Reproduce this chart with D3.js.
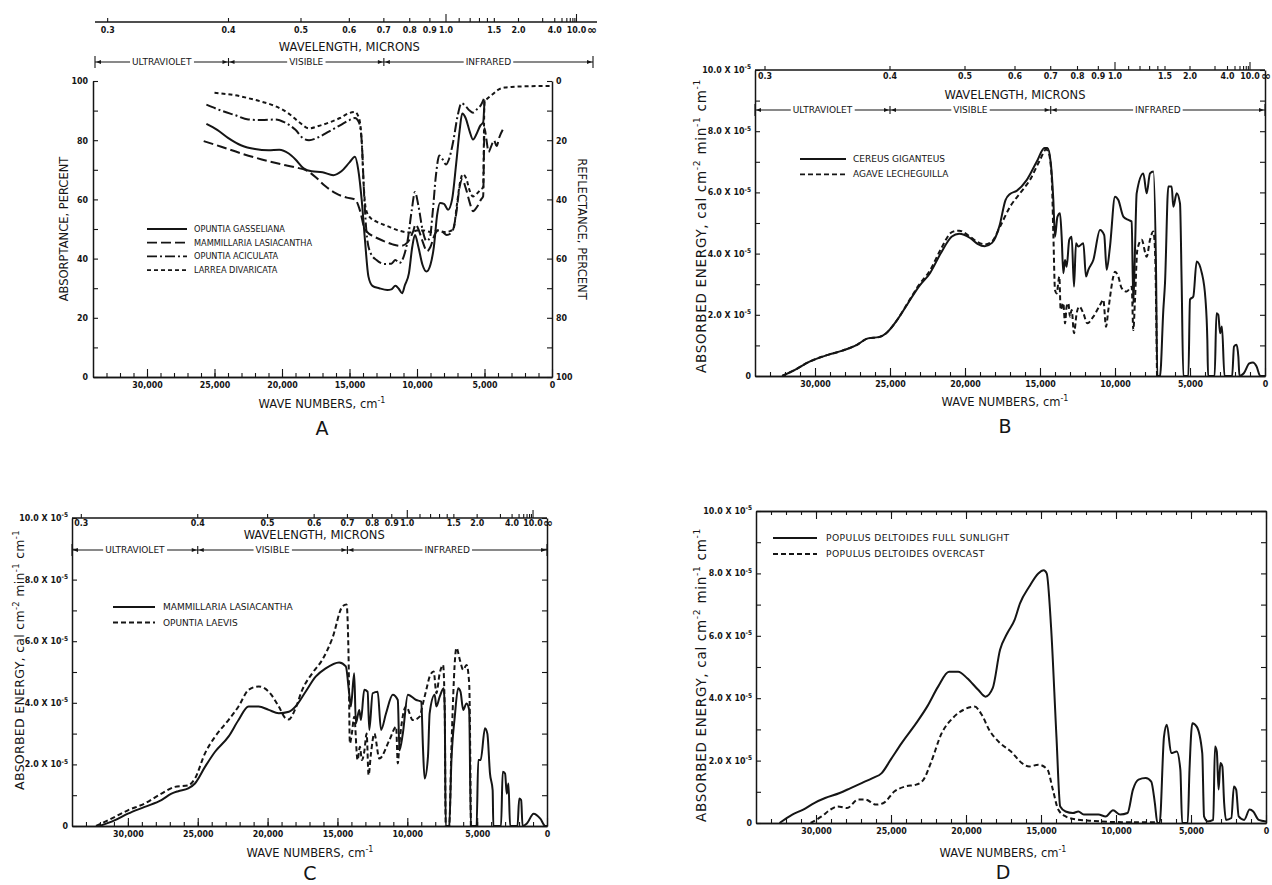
<!DOCTYPE html>
<html>
<head>
<meta charset="utf-8">
<title>Absorbed energy spectra</title>
<script src="https://cdn.jsdelivr.net/npm/d3@7"></script>
<style>
  body { margin: 0; background: #fff; }
  svg text { font-family: "DejaVu Sans", sans-serif; fill: #151515; }
  .num { font-family: "DejaVu Sans Condensed", "Liberation Sans Narrow", "DejaVu Sans", sans-serif; font-stretch: condensed; font-size: 8.8px; font-weight: 600; }
  .ttl { font-size: 11.5px; }
</style>
</head>
<body>
<svg id="chart" width="1272" height="885"></svg>
<script>
// ---------- data : [wave number cm-1, value] ----------

// A : absorptance, percent
const aGasseliana = [[25600,85.5],[24800,83.5],[24000,80.8],[23000,78.2],[22000,77],[21000,76.6],[20200,76.8],[19500,75.5],[19000,73.5],[18400,70.5],[17800,69.5],[17000,69.2],[16200,68.2],[15600,69.5],[15000,72.5],[14600,74.4],[14350,70],[14100,60],[13850,46],[13600,34],[13300,30.8],[12800,30],[12200,29.4],[11900,29.6],[11600,30.8],[11350,29.8],[11100,28.3],[10900,31],[10600,35],[10350,44],[10150,48],[9900,44],[9600,38],[9300,35.6],[9000,38],[8750,44],[8500,55],[8300,58.8],[8000,58.5],[7700,56.5],[7400,60],[7100,72],[6850,83],[6650,89],[6400,87.5],[6100,83],[5850,80.2],[5600,82],[5300,85],[5100,86],[5000,93.5]];
const aMammillaria = [[25800,79.7],[24500,77.8],[23000,75.5],[21500,73.5],[20000,71.8],[19000,70.8],[18200,69.8],[17500,67.5],[16800,64.5],[16000,62],[15200,60.6],[14600,60],[14350,58],[14150,55],[13950,51],[13700,49],[13200,47.5],[12500,46],[11800,44.8],[11200,44.3],[10700,45.5],[10300,49],[10100,51.5],[9900,50],[9600,46],[9250,42.5],[9000,44],[8700,48],[8400,49.7],[8100,49],[7800,48],[7400,49],[7100,55],[6850,64],[6650,66.7],[6400,64],[6100,59],[5850,56],[5550,57.5],[5250,60],[5100,61],[5000,84],[4850,80],[4700,76],[4500,78],[4300,80],[4100,78],[3900,81],[3650,83.5]];
const aAciculata = [[25600,92],[24500,90],[23500,88.5],[22500,87],[21500,86.8],[20500,87],[19800,86],[19000,83.5],[18400,80.5],[18000,80],[17300,81],[16500,83],[15700,85],[15000,86.8],[14600,87.5],[14300,86],[14100,80],[13900,60],[13700,47],[13450,42],[13000,39.5],[12400,38.2],[11900,38.3],[11600,39.5],[11300,38.5],[11000,40.5],[10700,46],[10400,56],[10150,62.5],[9900,58],[9600,50],[9300,46],[9050,47],[8850,55],[8600,68],[8350,74.8],[8100,73.5],[7850,71.8],[7600,74],[7300,80],[7000,88],[6700,92.5],[6400,91.5],[6100,90],[5850,89.3],[5550,90.5],[5250,92],[5050,94]];
const aLarrea = [[25000,96],[24500,95.8],[23500,95.2],[22500,94.2],[21500,93],[20500,91.5],[19500,89],[18700,86],[18000,84],[17300,84.8],[16500,86],[15700,87.5],[15000,89.2],[14600,89.5],[14300,87.5],[14100,80],[13950,65],[13800,57],[13500,54],[13000,52.5],[12200,51],[11500,49.7],[10900,49],[10500,48.8],[10000,49.5],[9500,49.5],[9000,49],[8500,49.5],[8000,49],[7600,49.2],[7300,50],[7050,58],[6800,66],[6600,68.5],[6350,67],[6100,63],[5850,61],[5550,62],[5250,63.5],[5100,64],[5000,93],[4800,94],[4400,95.5],[4000,97],[3500,97.8],[3000,98],[2000,98.2],[1000,98.3],[0,98.3]];
const aSpecies = ['OPUNTIA GASSELIANA', 'MAMMILLARIA LASIACANTHA', 'OPUNTIA ACICULATA', 'LARREA DIVARICATA'];

// B : absorbed energy, 1e-5 cal cm-2 min-1 cm-1
const bCereus = [[32190,0],[31340,0.2],[30365,0.47],[29150,0.69],[28175,0.83],[27200,1.02],[26470,1.23],[25740,1.27],[25255,1.4],[24525,1.83],[23800,2.38],[23065,2.93],[22335,3.36],[21605,4.02],[20875,4.56],[20390,4.65],[19660,4.51],[19170,4.32],[18685,4.24],[18200,4.35],[17710,4.89],[17300,5.75],[17000,5.95],[16556,6.05],[15889,6.4],[15222,7.0],[14700,7.45],[14500,7.45],[14290,7.0],[14111,5.75],[14000,4.55],[13840,5.2],[13667,5.32],[13556,4.55],[13445,3.36],[13334,3.79],[13222,3.57],[13050,4.45],[12889,4.55],[12733,2.92],[12600,4.34],[12445,4.23],[12111,4.34],[11934,3.25],[11778,3.47],[11445,3.79],[11000,4.77],[10720,4.6],[10556,3.47],[10334,4.23],[10000,5.86],[9778,5.75],[9445,5.21],[9111,5.1],[8889,5.05],[8778,2.38],[8667,4.12],[8556,5.97],[8111,6.62],[7889,5.97],[7667,6.62],[7445,6.68],[7267,3.57],[7178,0],[7000,0],[6778,2.16],[6667,3.03],[6445,6.19],[6222,6.19],[6111,5.53],[5889,5.97],[5667,5.64],[5556,3.03],[5445,0],[5111,0],[5000,2.5],[4778,2.6],[4556,3.74],[4209,3.36],[3966,2.49],[3844,1.18],[3795,0],[3358,0],[3236,2.05],[3114,2.0],[2993,1.4],[2871,1.62],[2700,0],[2190,0],[2068,0.96],[1898,1.02],[1776,0.63],[1703,0],[1411,0.09],[1046,0.41],[803,0.44],[560,0.31],[316,0],[0,0]];
const bAgave = [[32190,0],[31340,0.2],[30365,0.47],[29150,0.69],[28175,0.83],[27200,1.02],[26470,1.23],[25740,1.27],[25255,1.4],[24525,1.83],[23800,2.4],[23065,2.98],[22335,3.45],[21605,4.15],[20875,4.7],[20390,4.75],[19660,4.55],[19170,4.38],[18685,4.3],[18200,4.4],[17667,4.88],[17000,5.53],[16334,5.97],[15667,6.41],[15000,7.06],[14600,7.4],[14445,7.33],[14222,6.51],[14111,4.66],[14000,2.81],[13889,2.7],[13711,3.25],[13622,2.16],[13445,2.38],[13334,1.72],[13222,2.27],[13111,2.38],[13000,1.94],[12889,2.16],[12733,1.4],[12556,2.05],[12378,2.27],[12111,2.05],[11845,1.72],[11445,1.94],[11000,2.32],[10778,2.49],[10600,1.61],[10445,2.16],[10111,3.25],[10000,3.41],[9778,3.25],[9556,2.87],[9222,2.76],[8889,2.92],[8778,1.5],[8667,2.49],[8512,4.12],[8222,4.45],[7889,3.9],[7667,4.45],[7445,4.72],[7334,4.12],[7200,0]];
const bSpecies = ['CEREUS  GIGANTEUS', 'AGAVE  LECHEGUILLA'];

// C
const cMammillaria = [[32040,0],[30960,0.18],[30000,0.4],[28800,0.62],[27600,0.84],[26880,1.05],[26400,1.13],[25680,1.22],[25200,1.38],[24480,1.92],[23760,2.41],[22800,2.9],[22080,3.44],[21360,3.88],[20640,3.88],[19920,3.77],[19200,3.66],[18480,3.71],[18000,3.88],[17280,4.36],[16560,4.85],[15840,5.12],[14880,5.31],[14400,5.18],[14160,4.31],[14040,3.88],[13800,4.96],[13680,3.33],[13440,3.77],[13320,3.44],[13080,4.42],[12840,4.36],[12720,3.12],[12480,4.31],[12120,4.36],[11880,3.12],[11520,3.66],[11040,4.26],[10680,4.09],[10560,2.46],[10320,3.0],[9960,4.26],[9360,4.09],[9000,4.04],[8880,2.57],[8760,1.54],[8520,2.25],[8400,3.66],[8040,4.26],[7920,3.88],[7680,4.2],[7390,4.47],[7320,3.77],[7250,0],[7000,0],[6840,2.14],[6600,3.55],[6360,4.47],[6190,4.36],[6000,3.77],[5760,3.98],[5570,3.77],[5450,0],[5040,0],[4920,2.14],[4750,2.14],[4440,3.17],[4270,3.0],[4080,1.7],[3890,1.16],[3840,0],[3290,0],[3170,1.76],[3000,1.7],[2880,1.05],[2760,1.38],[2640,0],[2110,0],[1990,0.89],[1850,0.84],[1750,0],[1440,0.08],[960,0.4],[480,0.24],[120,0],[0,0]];
const cLaevis = [[32280,0],[30960,0.29],[30000,0.51],[28800,0.73],[27600,1.05],[26640,1.27],[25680,1.32],[25200,1.54],[24480,2.36],[23760,2.9],[22800,3.44],[22080,3.88],[21360,4.42],[20640,4.53],[19920,4.36],[19200,3.88],[18720,3.5],[18480,3.46],[18000,3.82],[17520,4.42],[16800,4.96],[16080,5.4],[15360,6.1],[14640,7.13],[14350,7.19],[14200,5.4],[14110,2.68],[13970,3.0],[13800,3.55],[13560,2.14],[13390,2.57],[13250,2.14],[13080,2.41],[12910,3.0],[12770,1.65],[12600,2.36],[12360,3.0],[12000,2.19],[11280,2.79],[10800,3.22],[10680,2.03],[10560,2.68],[10080,3.88],[9600,3.44],[9120,3.55],[8880,3.98],[8640,4.42],[8400,4.85],[8110,5.02],[7920,4.31],[7680,4.96],[7440,5.23],[7320,3.77],[7250,0],[7000,0],[6840,2.57],[6480,5.78],[6240,5.4],[6000,5.07],[5760,5.23],[5570,4.64],[5450,0]];
const cSpecies = ['MAMMILLARIA  LASIACANTHA', 'OPUNTIA  LAEVIS'];

// D
const dFullSun = [[32430,0],[31580,0.27],[30850,0.43],[30120,0.64],[29390,0.8],[28420,0.96],[27690,1.12],[26960,1.28],[26230,1.44],[25620,1.6],[25020,2.03],[24290,2.56],[23320,3.2],[22590,3.73],[21860,4.37],[21130,4.85],[20520,4.85],[19920,4.64],[19190,4.27],[18700,4.05],[18220,4.32],[17730,5.55],[17250,6.08],[16760,6.51],[16400,7.04],[15790,7.57],[15180,8.0],[14820,8.1],[14620,8.0],[14330,6.29],[13970,2.77],[13720,0.53],[13360,0.37],[12870,0.32],[12510,0.37],[12150,0.27],[11660,0.27],[11170,0.27],[10690,0.21],[10200,0.41],[9720,0.27],[9230,0.32],[8870,1.07],[8500,1.39],[8020,1.44],[7650,1.33],[7410,0.64],[7240,0],[7090,0],[6800,2.77],[6610,3.15],[6320,2.24],[5950,2.29],[5710,1.71],[5590,0],[5220,0],[5100,1.71],[4910,3.2],[4620,3.09],[4250,2.24],[4130,0.21],[3890,0.05],[3520,0.1],[3400,2.45],[3280,2.29],[3160,1.07],[3040,1.92],[2910,1.81],[2790,0.64],[2670,0.1],[2310,0.16],[2140,1.17],[1990,1.07],[1820,0.21],[1460,0.1],[1090,0.43],[850,0.37],[490,0.1],[0,0.05]];
const dOvercast = [[30360,0],[29630,0.21],[29030,0.43],[28540,0.53],[27930,0.48],[27200,0.75],[26720,0.75],[25990,0.59],[25500,0.64],[24780,1.01],[24050,1.17],[23320,1.23],[22830,1.39],[22350,1.92],[21620,2.88],[20890,3.36],[20160,3.63],[19430,3.73],[18950,3.47],[18460,2.99],[17730,2.56],[17000,2.29],[16270,1.92],[15790,1.81],[15180,1.87],[14570,1.71],[14210,1.07],[13850,0.43],[13360,0.21],[12630,0.11],[11660,0.07],[9960,0.03],[7290,0.02]];
const dSpecies = ['POPULUS  DELTOIDES  FULL  SUNLIGHT', 'POPULUS  DELTOIDES   OVERCAST'];

// ticks and labels
const kMajorTicks = [30000, 25000, 20000, 15000, 10000, 5000, 0];
const kMinorTicks = d3.range(1000, 34000, 1000);
const pctTicks = [0, 10, 20, 30, 40, 50, 60, 70, 80, 90, 100];
const energyTicks = [0, 1, 2, 3, 4, 5, 6, 7, 8, 9, 10];
const energyLabels = [0, 2, 4, 6, 8, 10];
const micronTicks = [0.3, 0.4, 0.5, 0.6, 0.7, 0.8, 0.9, 1.0, 1.1, 1.2, 1.3, 1.4, 1.5, 2.0, 3.0, 4.0, 5, 6, 7, 8, 9, 10];
const micronLong = [1.0, 10];
const micronLabels = [0.3, 0.4, 0.5, 0.6, 0.7, 0.8, 0.9, 1.0, 1.5, 2.0, 4.0, 10.0];
const regions = ['ULTRAVIOLET', 'VISIBLE', 'INFRARED'];

// ---------- drawing ----------
const ink = '#151515';
const svg = d3.select('#chart');

const kScale = (l, r) => d3.scaleLinear().domain([34000, 0]).range([l, r]);

const styleAxis = sel => {
  sel.select('.domain').attr('stroke', ink).attr('stroke-width', 1.5);
  sel.selectAll('.tick line').attr('stroke', ink).attr('stroke-width', 1.1);
  sel.selectAll('.tick text').attr('class', 'num');
};

// bottom wave number axis, ticks pointing into the plot
function waveNumberAxis(g, x, yb) {
  g.append('g').attr('transform', `translate(0,${yb})`)
    .call(d3.axisBottom(x).tickValues(kMinorTicks).tickSizeInner(-4).tickSizeOuter(0).tickFormat(''))
    .call(styleAxis);
  g.append('g').attr('transform', `translate(0,${yb})`)
    .call(d3.axisBottom(x).tickValues(kMajorTicks).tickSizeInner(-8).tickSizeOuter(0).tickPadding(5).tickFormat(d3.format(',')))
    .call(styleAxis);
}

function supText(g, parts, size, supSize) {
  parts.forEach(([s, sup], i) => {
    const prev = i > 0 && parts[i - 1][1];
    const t = g.append('tspan').text(s);
    if (sup) t.attr('dy', -size * 0.42).attr('font-size', supSize);
    else if (prev) t.attr('dy', size * 0.42);
  });
}

function bottomTitles(g, xc, yTitle, yLetter, letter) {
  const t = g.append('text').attr('class', 'ttl').attr('x', xc).attr('y', yTitle).attr('dy', '0.35em')
    .attr('text-anchor', 'middle');
  supText(t, [['WAVE  NUMBERS,  cm', false], ['-1', true]], 11.5, 8);
  g.append('text').attr('x', xc).attr('y', yLetter).attr('dy', '0.35em').attr('text-anchor', 'middle')
    .attr('font-size', 19).text(letter);
}

function energyTitle(g, x, yc, size, spacing) {
  const t = g.append('text').attr('transform', `translate(${x},${yc}) rotate(-90)`)
    .attr('text-anchor', 'middle').attr('font-size', size).attr('letter-spacing', spacing);
  supText(t, [['ABSORBED  ENERGY,  cal  cm', false], ['-2', true], [' min', false], ['-1', true], [' cm', false], ['-1', true]], size, size * 0.68);
}

function energyYLabels(g, y, xr) {
  energyLabels.forEach(v => {
    const t = g.append('text').attr('class', 'num').attr('x', xr).attr('y', y(v)).attr('dy', '0.35em')
      .attr('text-anchor', 'end');
    if (v === 0) { t.text('0'); return; }
    supText(t, [[v.toFixed(1) + ' X 10', false], ['-5', true]], 8.8, 6.5);
  });
}

// wavelength scale along the top, with the region row under it
function wavelengthAxis(g, x, o) {
  g.append('line').attr('x1', o.x1).attr('x2', o.x2).attr('y1', o.y).attr('y2', o.y)
    .attr('stroke', ink).attr('stroke-width', 1.5);
  g.selectAll(null).data(micronTicks).join('line')
    .attr('x1', d => x(1e4 / d)).attr('x2', d => x(1e4 / d))
    .attr('y1', o.y).attr('y2', d => o.y - (micronLong.includes(d) ? 8 : 4))
    .attr('stroke', ink).attr('stroke-width', 1.1);
  g.selectAll(null).data(micronLabels).join('text').attr('class', 'num')
    .attr('x', d => x(1e4 / d)).attr('y', o.y + o.labelDy).attr('dy', '0.35em')
    .attr('text-anchor', 'middle').text(d => d.toFixed(1));
  g.append('text').attr('x', x(0) + 1).attr('y', o.y + o.labelDy).attr('dy', '0.35em')
    .attr('text-anchor', 'middle').attr('font-size', 12).attr('font-weight', 'bold').text('\u221e');
  g.append('text').attr('class', 'ttl').attr('x', (x(33333) + x(0)) / 2).attr('y', o.titleY).attr('dy', '0.35em')
    .attr('text-anchor', 'middle').text('WAVELENGTH,  MICRONS');

  // ultraviolet / visible / infrared
  const b = [o.rowL, x(1e4 / 0.4), x(1e4 / 0.7), o.rowR];
  const yr = o.rowY;
  g.append('line').attr('x1', b[0]).attr('x2', b[3]).attr('y1', yr).attr('y2', yr)
    .attr('stroke', ink).attr('stroke-width', 1.2);
  b.forEach((bx, i) => {
    const h = (i === 0 || i === 3) ? 6 : 4;
    g.append('line').attr('x1', bx).attr('x2', bx).attr('y1', yr - h).attr('y2', yr + h)
      .attr('stroke', ink).attr('stroke-width', 1.1);
  });
  const arrow = (tip, dir) => `M${tip},${yr}L${tip + dir * 5},${yr - 2}L${tip + dir * 5},${yr + 2}Z`;
  regions.forEach((name, i) => {
    g.append('path').attr('d', arrow(b[i] + 1, 1)).attr('fill', ink);
    g.append('path').attr('d', arrow(b[i + 1] - 1, -1)).attr('fill', ink);
    const t = g.append('text').attr('x', (b[i] + b[i + 1]) / 2).attr('y', yr).attr('dy', '0.36em')
      .attr('text-anchor', 'middle').attr('font-size', 9).text(name);
    const bb = t.node().getBBox();
    g.insert('rect', () => t.node()).attr('x', bb.x - 2).attr('y', bb.y).attr('width', bb.width + 4)
      .attr('height', bb.height).attr('fill', '#fff');
  });
}

function legend(g, names, dashes, o) {
  names.forEach((name, i) => {
    const y = o.y0 + i * o.dy;
    g.append('line').attr('x1', o.x1).attr('x2', o.x2).attr('y1', y).attr('y2', y)
      .attr('stroke', ink).attr('stroke-width', 1.8).attr('stroke-dasharray', dashes[i]);
    g.append('text').attr('x', o.xt).attr('y', y).attr('dy', '0.35em').attr('font-size', o.fs)
      .attr('letter-spacing', o.ls || 0).text(name);
  });
}

function curve(g, x, y, data, dash) {
  g.append('path').datum(data)
    .attr('d', d3.line().x(d => x(d[0])).y(d => y(d[1])).curve(d3.curveMonotoneX))
    .attr('fill', 'none').attr('stroke', ink).attr('stroke-width', 2)
    .attr('stroke-linejoin', 'round').attr('stroke-dasharray', dash);
}

// energy panel frame (B, C, D)
function energyFrame(g, y, l, r) {
  g.append('g').attr('transform', `translate(${l},0)`)
    .call(d3.axisLeft(y).tickValues(energyTicks).tickSizeInner(-5).tickSizeOuter(0).tickFormat(''))
    .call(styleAxis);
  g.append('g').attr('transform', `translate(${r},0)`)
    .call(d3.axisRight(y).tickValues(energyTicks).tickSizeInner(-5).tickSizeOuter(0).tickFormat(''))
    .call(styleAxis);
  energyYLabels(g, y, l - 4);
}

// ---------- panel A ----------
{
  const l = 93, r = 552, top = 81, bottom = 377;
  const g = svg.append('g');
  const x = kScale(l, r);
  // the wavelength strip of A is drawn to its own, slightly wider, scale
  const xTop = kScale(98, 591);
  const y = d3.scaleLinear().domain([0, 100]).range([bottom, top]);
  const yRefl = d3.scaleLinear().domain([100, 0]).range([bottom, top]);

  g.append('g').attr('transform', `translate(${l},0)`)
    .call(d3.axisLeft(y).tickValues(pctTicks).tickSizeInner(-5).tickSizeOuter(0).tickPadding(5)
      .tickFormat(d => d % 20 === 0 ? d : ''))
    .call(styleAxis);
  g.append('g').attr('transform', `translate(${r},0)`)
    .call(d3.axisRight(yRefl).tickValues(pctTicks).tickSizeInner(-5).tickSizeOuter(0).tickPadding(4)
      .tickFormat(d => d % 20 === 0 ? d : ''))
    .call(styleAxis);
  waveNumberAxis(g, x, bottom);

  wavelengthAxis(g, xTop, { y: 22, x1: 95, x2: 597, labelDy: 8, titleY: 47, rowY: 62, rowL: 95, rowR: 593 });

  g.append('text').attr('class', 'ttl').attr('transform', `translate(68,229) rotate(-90)`)
    .attr('text-anchor', 'middle').text('ABSORPTANCE,  PERCENT');
  g.append('text').attr('class', 'ttl').attr('transform', `translate(578,229) rotate(90)`)
    .attr('text-anchor', 'middle').text('REFLECTANCE,  PERCENT');
  bottomTitles(g, 322, 404, 428, 'A');

  const dashes = [null, '10,4', '10,3,2,3', '4,3'];
  [aGasseliana, aMammillaria, aAciculata, aLarrea].forEach((s, i) => curve(g, x, y, s, dashes[i]));
  legend(g, aSpecies, dashes, { x1: 147, x2: 187, xt: 194, y0: 229, dy: 13.7, fs: 8.2 });
}

// ---------- panel B ----------
{
  const l = 755, r = 1265, top = 70, bottom = 376;
  const g = svg.append('g');
  const x = kScale(l, r);
  const y = d3.scaleLinear().domain([0, 10]).range([bottom, top]);
  energyFrame(g, y, l, r);
  waveNumberAxis(g, x, bottom);
  wavelengthAxis(g, x, { y: top, x1: l, x2: r, labelDy: 6, titleY: 95, rowY: 110, rowL: l, rowR: r });
  energyTitle(g, 706, 226, 13.5, 0.7);
  bottomTitles(g, 1005, 402, 426, 'B');
  const dashes = [null, '5,3'];
  [bCereus, bAgave].forEach((s, i) => curve(g, x, y, s, dashes[i]));
  legend(g, bSpecies, dashes, { x1: 800, x2: 846, xt: 853, y0: 159, dy: 15.3, fs: 9 });
}

// ---------- panel C ----------
{
  const l = 72, r = 547, top = 518, bottom = 826;
  const g = svg.append('g');
  const x = kScale(l, r);
  const y = d3.scaleLinear().domain([0, 10]).range([bottom, top]);
  energyFrame(g, y, l, r);
  waveNumberAxis(g, x, bottom);
  wavelengthAxis(g, x, { y: top, x1: l, x2: r, labelDy: 5, titleY: 535, rowY: 550, rowL: l, rowR: r });
  energyTitle(g, 24, 660, 12.5, 0.3);
  bottomTitles(g, 310, 853, 873, 'C');
  const dashes = [null, '5,3'];
  [cMammillaria, cLaevis].forEach((s, i) => curve(g, x, y, s, dashes[i]));
  legend(g, cSpecies, dashes, { x1: 113, x2: 155, xt: 163, y0: 607, dy: 15.5, fs: 9 });
}

// ---------- panel D ----------
{
  const l = 756, r = 1266, top = 511, bottom = 823;
  const g = svg.append('g');
  const x = kScale(l, r);
  const y = d3.scaleLinear().domain([0, 10]).range([bottom, top]);
  energyFrame(g, y, l, r);
  waveNumberAxis(g, x, bottom);
  g.append('g').attr('transform', `translate(0,${top})`)
    .call(d3.axisTop(x).tickValues(kMinorTicks).tickSizeInner(-4).tickSizeOuter(0).tickFormat(''))
    .call(styleAxis);
  g.append('g').attr('transform', `translate(0,${top})`)
    .call(d3.axisTop(x).tickValues(kMajorTicks).tickSizeInner(-8).tickSizeOuter(0).tickFormat(''))
    .call(styleAxis);
  energyTitle(g, 706, 675, 13.5, 0.7);
  bottomTitles(g, 1003, 853, 872, 'D');
  const dashes = [null, '5,3'];
  [dFullSun, dOvercast].forEach((s, i) => curve(g, x, y, s, dashes[i]));
  legend(g, dSpecies, dashes, { x1: 773, x2: 817, xt: 826, y0: 538, dy: 16, fs: 9.2, ls: 0.4 });
}
</script>
</body>
</html>
